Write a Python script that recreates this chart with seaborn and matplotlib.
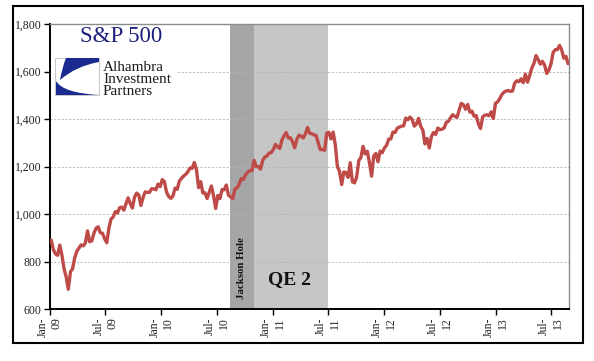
import pandas as pd
import seaborn as sns
import matplotlib.pyplot as plt
import matplotlib.dates as mdates
from matplotlib.patches import Rectangle, PathPatch
from matplotlib.path import Path
from matplotlib.transforms import Affine2D
from matplotlib.ticker import FuncFormatter

# weekly closes, first week of Jan 2009 .. last week of Aug 2013
first_week = "2009-01-05"
sp_2009 = [890, 850, 832, 826, 869, 827, 770, 735, 683, 757, 769, 816,
           843, 857, 870, 866, 878, 929, 883, 887, 919, 940, 946, 921,
           919, 896, 879, 940, 979, 987, 1010, 1004, 1026, 1029, 1016, 1043,
           1068, 1044, 1025, 1071, 1088, 1080, 1036, 1069, 1093, 1091, 1091, 1106,
           1106, 1102, 1126, 1115]
sp_2010 = [1145, 1136, 1092, 1074, 1066, 1076, 1109, 1104, 1139, 1150, 1160, 1167,
           1178, 1194, 1192, 1217, 1187, 1111, 1136, 1088, 1089, 1065, 1092, 1118,
           1077, 1023, 1078, 1065, 1103, 1102, 1122, 1079, 1072, 1065, 1105, 1110,
           1126, 1149, 1146, 1165, 1176, 1183, 1183, 1226, 1199, 1200, 1189, 1225,
           1240, 1244, 1257, 1258]
sp_2011 = [1272, 1293, 1283, 1276, 1311, 1329, 1343, 1320, 1321, 1304, 1279, 1314,
           1332, 1328, 1320, 1337, 1364, 1340, 1338, 1333, 1331, 1300, 1271, 1272,
           1268, 1340, 1344, 1316, 1345, 1292, 1199, 1179, 1124, 1177, 1174, 1154,
           1216, 1136, 1131, 1155, 1225, 1238, 1285, 1253, 1264, 1216, 1159, 1244,
           1255, 1220, 1265, 1258]
sp_2012 = [1278, 1289, 1315, 1316, 1345, 1343, 1361, 1366, 1370, 1371, 1404, 1397,
           1408, 1398, 1370, 1379, 1403, 1369, 1353, 1295, 1318, 1278, 1326, 1343,
           1335, 1362, 1355, 1357, 1363, 1386, 1391, 1406, 1418, 1411, 1407, 1438,
           1466, 1460, 1441, 1461, 1429, 1433, 1412, 1414, 1380, 1360, 1409, 1416,
           1418, 1414, 1430, 1402]
sp_2013 = [1466, 1472, 1486, 1503, 1513, 1518, 1520, 1516, 1518, 1551, 1561, 1557,
           1569, 1553, 1589, 1555, 1582, 1614, 1634, 1667, 1650, 1631, 1643, 1627,
           1592, 1606, 1632, 1680, 1692, 1692, 1710, 1691, 1656, 1664, 1633]

jackson_hole = ("2010-08-14", "2010-10-30")
qe2 = ("2010-10-30", "2011-06-30")
tick_dates = ["2009-01-01", "2009-07-01", "2010-01-01", "2010-07-01", "2011-01-01",
              "2011-07-01", "2012-01-01", "2012-07-01", "2013-01-01", "2013-07-01"]
y_ticks = [600, 800, 1000, 1200, 1400, 1600, 1800]

values = sp_2009 + sp_2010 + sp_2011 + sp_2012 + sp_2013
df = pd.DataFrame({"Date": pd.date_range(first_week, periods=len(values), freq="7D"),
                   "Close": values})

sns.set_style("white")
plt.rcParams["font.family"] = ["Liberation Serif", "DejaVu Serif"]

W, H = 594, 361
fig = plt.figure(figsize=(W / 100, H / 100), dpi=100)
ax = fig.add_axes([50 / W, 1 - 309 / H, 519 / W, 285 / H])
pix = Affine2D().scale(1 / W, -1 / H).translate(0, 1) + fig.transFigure

# shaded periods
ax.axvspan(pd.Timestamp(jackson_hole[0]), pd.Timestamp(jackson_hole[1]),
           color="#a6a6a6", lw=0, zorder=0)
ax.axvspan(pd.Timestamp(qe2[0]), pd.Timestamp(qe2[1]),
           color="#c6c6c6", lw=0, zorder=0)

sns.lineplot(data=df, x="Date", y="Close", ax=ax, color="#bf4b48", lw=2.4, zorder=3)

ax.set_xlim(pd.Timestamp("2009-01-01"), pd.Timestamp("2013-08-29"))
ax.set_ylim(600, 1800)
ax.set_yticks(y_ticks)
ax.yaxis.set_major_formatter(FuncFormatter(lambda v, p: f"{int(v):,}"))
ax.set_xticks([pd.Timestamp(d) for d in tick_dates])
ax.xaxis.set_major_formatter(mdates.DateFormatter("%b-\n%y"))
ax.set_xlabel("")
ax.set_ylabel("")

for y in y_ticks[1:-1]:
    ax.axhline(y, color="#b4b4b4", lw=0.6, ls=(0, (2.5, 2)), zorder=1)

ax.tick_params(axis="both", direction="out", length=4, width=1, color="black",
               labelsize=8.5, labelcolor="#222222", pad=2, left=True, bottom=True)
for lab in ax.get_xticklabels():
    lab.set_rotation(90)
    lab.set_ha("center")
    lab.set_va("top")
    lab.set_multialignment("right")

for side in ["left", "bottom"]:
    ax.spines[side].set_color("black")
    ax.spines[side].set_linewidth(1.4)
for side in ["top", "right"]:
    ax.spines[side].set_color("#8c8c8c")
    ax.spines[side].set_linewidth(1.0)

# annotations for the periods
ax.text(pd.Timestamp("2010-09-22"), 642, "Jackson Hole", rotation=90, ha="center",
        va="bottom", fontsize=7.8, fontweight="bold", color="#111111", zorder=4)
ax.text(pd.Timestamp("2011-02-25"), 725, "QE 2", ha="center", va="center",
        fontsize=14, fontweight="bold", color="#111111", zorder=4)

# outer frame
fig.patches.append(Rectangle((13, 343), 570, -337, transform=pix, fill=False,
                             ec="black", lw=1.5))

# title and logo
fig.text(121 / W, 1 - 37 / H, "S&P 500", ha="center", va="center",
         fontsize=16.5, color="#1c1f7a")
fig.patches.append(Rectangle((51, 54), 125, 44, transform=pix, fc="white",
                             ec="none", zorder=2))
fig.patches.append(Rectangle((55, 58), 44, 37, transform=pix, fc="white",
                             ec="#c8c8c8", lw=0.8, zorder=3))
blade = Path([(66, 58), (99, 58), (99, 62), (76, 66), (60, 80), (62, 68), (66, 58)],
             [Path.MOVETO, Path.LINETO, Path.LINETO, Path.CURVE3, Path.CURVE3,
              Path.CURVE3, Path.CURVE3])
fig.patches.append(PathPatch(blade, transform=pix, fc="#1b2a8f", ec="none", zorder=4))
base = Path([(56, 81), (63, 93), (99, 95), (56, 95), (56, 81)],
            [Path.MOVETO, Path.CURVE3, Path.CURVE3, Path.LINETO, Path.CLOSEPOLY])
fig.patches.append(PathPatch(base, transform=pix, fc="#1b2a8f", ec="none", zorder=4))
fig.text(103 / W, 1 - 61 / H, "Alhambra\nInvestment\nPartners", ha="left", va="top",
         fontsize=11, linespacing=0.88, color="#1a1a1a", zorder=5)

fig.savefig("out.png", dpi=100)
